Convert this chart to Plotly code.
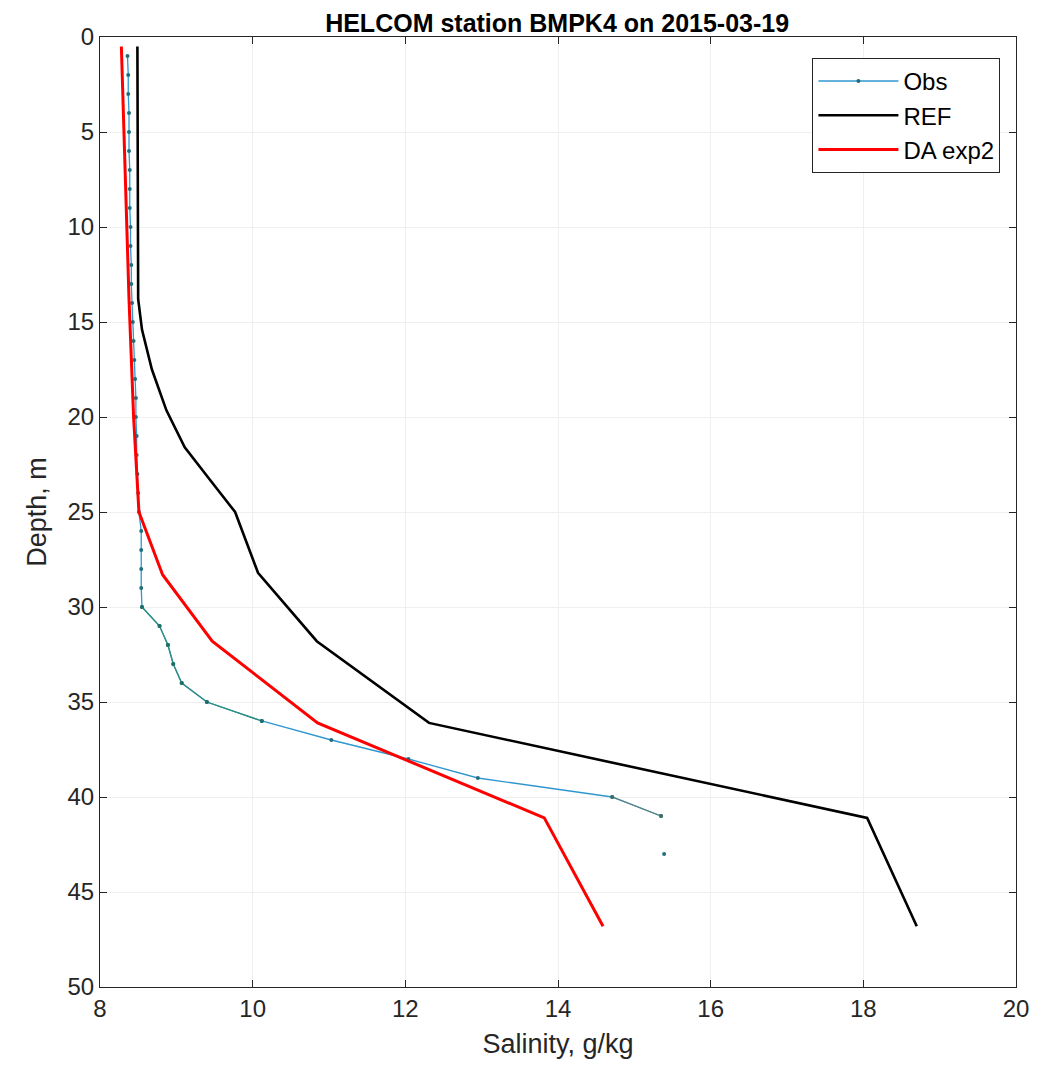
import plotly.graph_objects as go

# Observations (depth m, salinity g/kg)
obs_depth = list(range(1, 44))
obs_sal = [8.36, 8.37, 8.37, 8.38, 8.38, 8.38, 8.39, 8.39, 8.39, 8.40,
           8.40, 8.41, 8.41, 8.42, 8.43, 8.44, 8.45, 8.46, 8.47, 8.47,
           8.48, 8.48, 8.49, 8.50, 8.51, 8.54, 8.54, 8.54, 8.54, 8.55,
           8.78, 8.89, 8.96, 9.07, 9.40, 10.12, 11.03, 12.04, 12.95, 14.71,
           15.35, None, 15.39]

# REF model profile
ref_depth = [0.5, 13.8, 15.4, 17.5, 19.65, 21.6, 23.3, 25.0, 28.2, 31.8, 36.1, 41.1, 46.8]
ref_sal = [8.49, 8.50, 8.55, 8.68, 8.87, 9.11, 9.44, 9.77, 10.07, 10.84, 12.31, 18.05, 18.70]

# DA exp2 model profile
da_depth = [0.5, 13.8, 20.0, 25.0, 28.3, 31.8, 36.1, 41.1, 46.8]
da_sal = [8.28, 8.38, 8.44, 8.51, 8.82, 9.47, 10.85, 13.82, 14.59]

x_ticks = [8, 10, 12, 14, 16, 18, 20]
y_ticks = [0, 5, 10, 15, 20, 25, 30, 35, 40, 45, 50]

FONT = "Liberation Sans, Arial, Helvetica, sans-serif"

fig = go.Figure()

fig.add_trace(go.Scatter(
    x=obs_sal, y=obs_depth, mode="lines+markers", name="Obs",
    line=dict(color="#2f97d0", width=1.3),
    marker=dict(color="#1f6f7a", size=4),
    connectgaps=False,
))
# teal-looking segments of the obs line
fig.add_trace(go.Scatter(
    x=obs_sal[29:36], y=obs_depth[29:36], mode="lines+markers", showlegend=False,
    line=dict(color="#2e8f7a", width=1.3), marker=dict(color="#1f6f6a", size=4),
    hoverinfo="skip",
))
fig.add_trace(go.Scatter(
    x=obs_sal[39:41], y=obs_depth[39:41], mode="lines+markers", showlegend=False,
    line=dict(color="#5f7f78", width=1.3), marker=dict(color="#3f6f68", size=4),
    hoverinfo="skip",
))

fig.add_trace(go.Scatter(
    x=ref_sal, y=ref_depth, mode="lines", name="REF",
    line=dict(color="black", width=2.6),
))
fig.add_trace(go.Scatter(
    x=da_sal, y=da_depth, mode="lines", name="DA exp2",
    line=dict(color="#ff0000", width=3),
))

axis_common = dict(
    showline=True, linecolor="#262626", linewidth=1.2, mirror="ticks",
    ticks="inside", ticklen=7, tickcolor="#262626",
    showgrid=True, gridcolor="#efefef", gridwidth=1,
    zeroline=False,
    tickfont=dict(family=FONT, size=24, color="#262626"),
)

fig.update_layout(
    width=1048, height=1070,
    paper_bgcolor="white", plot_bgcolor="white",
    margin=dict(l=92, r=40, t=29, b=91),
    title=dict(
        text="<b>HELCOM station BMPK4 on 2015-03-19</b>",
        x=0.524, xanchor="center", y=1 - 15 / 1070, yanchor="middle",
        font=dict(family=FONT, size=25, color="black"),
    ),
    xaxis=dict(
        range=[8, 20], tickvals=x_ticks,
        title=dict(text="Salinity, g/kg", font=dict(family=FONT, size=27, color="#262626"), standoff=13),
        **axis_common,
    ),
    yaxis=dict(
        range=[50, 0], tickvals=y_ticks,
        title=dict(text="Depth, m", font=dict(family=FONT, size=27, color="#262626"), standoff=12),
        **axis_common,
    ),
    legend=dict(
        x=0.983, xanchor="right", y=0.978, yanchor="top",
        bgcolor="white", bordercolor="#262626", borderwidth=1,
        font=dict(family=FONT, size=24, color="black"),
        itemwidth=80, tracegroupgap=0,
    ),
    showlegend=True,
)

fig.write_html("out.html")
